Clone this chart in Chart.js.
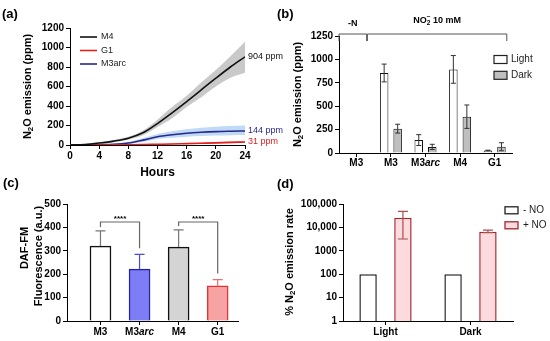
<!DOCTYPE html>
<html>
<head>
<meta charset="utf-8">
<script src="https://cdn.jsdelivr.net/npm/chart.js@4.4.1/dist/chart.umd.min.js"></script>
<style>
  body { margin: 0; background: #fff; width: 550px; height: 341px; position: relative; overflow: hidden; }
  canvas { position: absolute; }
</style>
</head>
<body>
<canvas id="chartA" style="left:0;top:0" width="290" height="180"></canvas>
<canvas id="chartB" style="left:275px;top:0" width="275" height="175"></canvas>
<canvas id="chartC" style="left:0;top:175px" width="275" height="166"></canvas>
<canvas id="chartD" style="left:275px;top:175px" width="275" height="166"></canvas>
<script>
// (a) N2O time course
const hours = [0, 2, 4, 6, 8, 10, 12, 14, 16, 18, 20, 22, 24]
const m4 = [0, 5, 20, 40, 70, 125, 220, 330, 445, 565, 685, 800, 904]
const m4Hi = [0, 8, 28, 52, 85, 150, 260, 390, 505, 640, 770, 910, 1060]
const m4Lo = [0, 2, 12, 28, 55, 100, 185, 275, 390, 490, 600, 690, 740]
const m3arc = [0, 0, 2, 6, 20, 50, 85, 105, 120, 130, 137, 141, 144]
const m3arcHi = [0, 0, 3, 10, 30, 70, 112, 142, 162, 177, 187, 195, 200]
const m3arcLo = [0, 0, 1, 3, 12, 32, 62, 75, 85, 92, 97, 100, 102]
const g1 = [0, 0, 0, 1, 2, 4, 7, 10, 14, 18, 22, 27, 31]
const g1Hi = [0, 0, 1, 2, 4, 7, 11, 15, 20, 25, 30, 36, 42]
const g1Lo = [0, 0, 0, 0, 1, 2, 4, 6, 9, 12, 15, 19, 22]

// (b) N2O emission, light vs dark
const strainsB = ["M3", "M3", "M3arc", "M4", "G1"]
const lightB = [null, 855, 138, 893, 26]
const lightErrB = [null, 95, 58, 148, 4]
const darkB = [null, 260, 65, 388, 67]
const darkErrB = [null, 47, 28, 125, 43]

// (c) DAF-FM fluorescence
const strainsC = ["M3", "M3arc", "M4", "G1"]
const dafC = [320, 222, 316, 150]
const dafErrC = [65, 63, 73, 27]

// (d) % N2O emission rate
const condsD = ["Light", "Dark"]
const minusNO = [100, 100]
const plusNO = [26000, 6500]
const plusNOLo = [3200, 6000]
const plusNOHi = [48000, 7600]
const logTicks = [1, 10, 100, 1000, 10000, 100000]
const logTickLabels = ["1", "10", "100", "1000", "10,000", "100,000"]

const FONT = '"Liberation Sans", Arial, Helvetica, sans-serif'
Chart.defaults.font.family = FONT
Chart.defaults.color = "#000"
Chart.defaults.animation = false
Chart.defaults.responsive = false
Chart.defaults.devicePixelRatio = 1
Chart.defaults.plugins.legend.display = false
Chart.defaults.plugins.tooltip.enabled = false

// draws text made of parts (sub/superscripts, italics), optionally rotated
function drawRich(ctx, parts, x, y, size, opt = {}) {
    const bold = opt.bold !== false
    ctx.save()
    ctx.translate(x, y)
    if (opt.rot) ctx.rotate(opt.rot)
    ctx.fillStyle = opt.color || "#000"
    ctx.textBaseline = "middle"
    ctx.textAlign = "left"
    const items = parts.map(p => typeof p === "string" ? { t: p } : Object.assign({}, p))
    let w = 0, prevX = 0
    items.forEach(p => {
        p.size = (p.sub || p.sup) ? size * 0.72 : size
        p.font = (p.italic ? "italic " : "") + (bold ? "bold " : "") + p.size + "px " + FONT
        ctx.font = p.font
        p.w = ctx.measureText(p.t).width
        if (p.over) {
            p.x = prevX
            w = Math.max(w, prevX + p.w)
        } else {
            p.x = w
            prevX = w
            w += p.w
        }
    })
    const start = opt.align === "left" ? 0 : opt.align === "right" ? -w : -w / 2
    items.forEach(p => {
        ctx.font = p.font
        const dy = p.sub ? size * 0.3 : p.sup ? -size * 0.4 : 0
        ctx.fillText(p.t, start + p.x, dy)
    })
    ctx.restore()
}

function strainParts(name) {
    return name.endsWith("arc") ? [name.slice(0, -3), { t: "arc", italic: true }] : [name]
}

function yAxis(min, max, step, width) {
    return {
        min: min, max: max,
        ticks: { stepSize: step, font: { size: 10, weight: "bold" }, color: "#000", padding: 2, callback: v => String(v) },
        grid: { drawOnChartArea: false, tickLength: 4, color: "#000" },
        border: { color: "#000", width: 1 },
        afterFit: s => { s.width = width }
    }
}

const errorBars = {
    id: "errorBars",
    afterDatasetsDraw(chart, args, opts) {
        const { ctx } = chart
        const y = chart.scales.y
        chart.data.datasets.forEach((ds, i) => {
            if (!ds.errHi) return
            const meta = chart.getDatasetMeta(i)
            meta.data.forEach((bar, j) => {
                const v = ds.data[j]
                if (v == null || ds.errHi[j] == null) return
                const val = typeof v === "object" ? v.y : v
                const yHi = y.getPixelForValue(ds.errHi[j])
                const yLo = y.getPixelForValue(ds.errLo ? ds.errLo[j] : val)
                const c = opts.cap / 2
                ctx.save()
                ctx.strokeStyle = Array.isArray(ds.errColor) ? ds.errColor[j] : (ds.errColor || "#000")
                ctx.lineWidth = opts.width
                ctx.beginPath()
                ctx.moveTo(bar.x, yLo); ctx.lineTo(bar.x, yHi)
                ctx.moveTo(bar.x - c, yHi); ctx.lineTo(bar.x + c, yHi)
                if (ds.errLo) { ctx.moveTo(bar.x - c, yLo); ctx.lineTo(bar.x + c, yLo) }
                ctx.stroke()
                ctx.restore()
            })
        })
    }
}

// ---------- (a) ----------
const pts = arr => hours.map((h, i) => ({ x: h, y: arr[i] }))
const lineDs = (label, arr, color) => ({
    label: label, data: pts(arr), borderColor: color, borderWidth: 1.6,
    pointRadius: 0, cubicInterpolationMode: "monotone", fill: false
})
const bandDs = (arr, fillTo, color) => ({
    data: pts(arr), borderWidth: 0, pointRadius: 0, cubicInterpolationMode: "monotone",
    fill: fillTo, backgroundColor: color
})

const panelA = {
    id: "panelA",
    afterDraw(chart) {
        const { ctx, chartArea } = chart
        const y = chart.scales.y
        drawRich(ctx, ["(a)"], 2, 14, 13, { align: "left" })
        drawRich(ctx, ["N", { t: "2", sub: true }, "O emission (ppm)"], 28, (chartArea.top + chartArea.bottom) / 2, 11, { rot: -Math.PI / 2 })
        drawRich(ctx, ["Hours"], (chartArea.left + chartArea.right) / 2, 173, 12)
        chart.data.datasets.slice(0, 3).forEach((ds, i) => {
            const ly = 37 + i * 13.5
            ctx.save()
            ctx.strokeStyle = ds.borderColor
            ctx.lineWidth = 1.6
            ctx.beginPath(); ctx.moveTo(80, ly); ctx.lineTo(97, ly); ctx.stroke()
            ctx.restore()
            drawRich(ctx, [ds.label], 101, ly, 9, { align: "left", bold: false, color: "#222" })
            const last = ds.data[ds.data.length - 1].y
            drawRich(ctx, [last + " ppm"], chartArea.right + 3, y.getPixelForValue(last), 9, { align: "left", bold: false, color: ds.borderColor })
        })
    }
}

new Chart(document.getElementById("chartA"), {
    type: "line",
    data: {
        datasets: [
            lineDs("M4", m4, "#111111"),
            lineDs("G1", g1, "#e32020"),
            lineDs("M3arc", m3arc, "#28288a"),
            bandDs(m4Lo, false, "transparent"),
            bandDs(m4Hi, 3, "rgba(165,165,165,0.6)"),
            bandDs(m3arcLo, false, "transparent"),
            bandDs(m3arcHi, 5, "rgba(130,180,240,0.5)"),
            bandDs(g1Lo, false, "transparent"),
            bandDs(g1Hi, 7, "rgba(240,110,110,0.45)")
        ]
    },
    options: {
        layout: { padding: { left: 0, top: 28, right: 45, bottom: 15 } },
        scales: {
            x: {
                type: "linear", min: 0, max: 24,
                ticks: { stepSize: 4, font: { size: 10, weight: "bold" }, color: "#000", padding: 1 },
                grid: { drawOnChartArea: false, tickLength: 4, color: "#000" },
                border: { color: "#000", width: 1 },
                afterFit: s => { s.height = 20 }
            },
            y: yAxis(0, 1200, 200, 70)
        }
    },
    plugins: [panelA]
})

// ---------- (b) ----------
const panelB = {
    id: "panelB",
    afterDraw(chart) {
        const { ctx, chartArea } = chart
        const x = chart.scales.x
        drawRich(ctx, ["(b)"], 2, 14, 13, { align: "left" })
        drawRich(ctx, ["N", { t: "2", sub: true }, "O emission (ppm)"], 23, (chartArea.top + chartArea.bottom) / 2, 11, { rot: -Math.PI / 2 })
        strainsB.forEach((s, i) => drawRich(ctx, strainParts(s), x.getPixelForValue(i), 163, 10))
        // treatment brackets
        const brackets = [
            [-0.5, 0.3, ["-N"], 28],
            [0.32, 4.35, ["NO", { t: "2", sub: true }, { t: "\u2212", sup: true, over: true }, " 10 mM"], 25]
        ]
        brackets.forEach(([a, b, txt, ty]) => {
            const xa = x.getPixelForValue(a), xb = x.getPixelForValue(b)
            ctx.save()
            ctx.strokeStyle = "#555"
            ctx.lineWidth = 1
            ctx.beginPath()
            ctx.moveTo(xa, 41); ctx.lineTo(xa, 34); ctx.lineTo(xb, 34); ctx.lineTo(xb, 41)
            ctx.stroke()
            ctx.restore()
            drawRich(ctx, txt, (xa + xb) / 2, ty - 4, 9)
        })
        chart.data.datasets.forEach((ds, i) => {
            const ly = 59.5 + i * 15.8
            ctx.save()
            ctx.fillStyle = ds.backgroundColor
            ctx.strokeStyle = "#222"
            ctx.lineWidth = 1.2
            ctx.fillRect(219, ly - 4, 13, 8)
            ctx.strokeRect(219, ly - 4, 13, 8)
            ctx.restore()
            drawRich(ctx, [ds.label], 236, ly, 10, { align: "left", bold: false, color: "#222" })
        })
    }
}

new Chart(document.getElementById("chartB"), {
    type: "bar",
    data: {
        labels: strainsB,
        datasets: [
            {
                label: "Light", data: lightB, backgroundColor: "#ffffff", borderColor: "#111", borderWidth: 1,
                errHi: lightB.map((v, i) => v == null ? null : v + lightErrB[i]),
                errLo: lightB.map((v, i) => v == null ? null : v - lightErrB[i]),
                errColor: "#333"
            },
            {
                label: "Dark", data: darkB, backgroundColor: "#bfbfbf", borderColor: "#111", borderWidth: 1,
                errHi: darkB.map((v, i) => v == null ? null : v + darkErrB[i]),
                errLo: darkB.map((v, i) => v == null ? null : v - darkErrB[i]),
                errColor: "#333"
            }
        ]
    },
    options: {
        categoryPercentage: 0.78,
        barPercentage: 0.63,
        layout: { padding: { left: 0, top: 36, right: 38, bottom: 2 } },
        scales: {
            x: {
                ticks: { color: "rgba(0,0,0,0)", font: { size: 10, weight: "bold" } },
                grid: { drawOnChartArea: false, tickLength: 4, color: "#000", offset: false },
                border: { color: "#000", width: 1 },
                afterFit: s => { s.height = 20 }
            },
            y: yAxis(0, 1250, 250, 64)
        },
        plugins: { errorBars: { cap: 5, width: 1 } }
    },
    plugins: [errorBars, panelB]
})

// ---------- (c) ----------
const sigPairs = [[0, 1], [2, 3]]
const panelC = {
    id: "panelC",
    afterDraw(chart) {
        const { ctx } = chart
        const x = chart.scales.x, y = chart.scales.y
        drawRich(ctx, ["(c)"], 3, 8, 13, { align: "left" })
        drawRich(ctx, ["DAF-FM"], 25, 73, 11, { rot: -Math.PI / 2 })
        drawRich(ctx, ["Fluorescence (a.u.)"], 39, 81, 11, { rot: -Math.PI / 2 })
        strainsC.forEach((s, i) => drawRich(ctx, strainParts(s), x.getPixelForValue(i), 157, 10))
        const ds = chart.data.datasets[0]
        const ly = y.getPixelForValue(423)
        sigPairs.forEach(([a, b]) => {
            const xa = x.getPixelForValue(a), xb = x.getPixelForValue(b)
            ctx.save()
            ctx.strokeStyle = "#666"
            ctx.lineWidth = 1.2
            ctx.beginPath()
            ctx.moveTo(xa, y.getPixelForValue(ds.errHi[a]) - 4)
            ctx.lineTo(xa, ly); ctx.lineTo(xb, ly)
            ctx.lineTo(xb, y.getPixelForValue(ds.errHi[b]) - 6)
            ctx.stroke()
            ctx.restore()
            drawRich(ctx, ["****"], (xa + xb) / 2, ly - 3, 8)
        })
    }
}

new Chart(document.getElementById("chartC"), {
    type: "bar",
    data: {
        datasets: [{
            data: dafC.map((v, i) => ({ x: i, y: v })),
            backgroundColor: ["#ffffff", "#7d7df5", "#d4d4d4", "#f7a3a3"],
            borderColor: ["#111111", "#2323a8", "#111111", "#e03535"],
            borderWidth: 1.5,
            barThickness: 21,
            errHi: dafC.map((v, i) => v + dafErrC[i]),
            errColor: ["#777", "#4a4ad6", "#777", "#e07272"]
        }]
    },
    options: {
        layout: { padding: { left: 0, top: 29, right: 37, bottom: 0 } },
        scales: {
            x: {
                type: "linear", min: -0.857, max: 3.52, offset: false,
                afterBuildTicks: axis => { axis.ticks = strainsC.map((s, i) => ({ value: i })) },
                ticks: { color: "rgba(0,0,0,0)", font: { size: 10, weight: "bold" } },
                grid: { drawOnChartArea: false, tickLength: 4, color: "#000", offset: false },
                border: { color: "#000", width: 1 },
                afterFit: s => { s.height = 20 }
            },
            y: yAxis(0, 500, 100, 67)
        },
        plugins: { errorBars: { cap: 10, width: 1.2 } }
    },
    plugins: [errorBars, panelC]
})

// ---------- (d) ----------
const panelD = {
    id: "panelD",
    afterDraw(chart) {
        const { ctx } = chart
        const x = chart.scales.x
        drawRich(ctx, ["(d)"], 2, 9, 13, { align: "left" })
        drawRich(ctx, ["% N", { t: "2", sub: true }, "O emission rate"], 15, 87, 11, { rot: -Math.PI / 2 })
        condsD.forEach((s, i) => drawRich(ctx, [s], x.getPixelForValue(i), 157, 10))
        chart.data.datasets.forEach((ds, i) => {
            const ly = 35.3 + i * 15
            ctx.save()
            ctx.fillStyle = ds.backgroundColor
            ctx.strokeStyle = ds.borderColor
            ctx.lineWidth = 1.3
            ctx.fillRect(230, ly - 3.5, 13, 7)
            ctx.strokeRect(230, ly - 3.5, 13, 7)
            ctx.restore()
            drawRich(ctx, [ds.label], 248, ly, 10, { align: "left", bold: false, color: "#222" })
        })
    }
}

new Chart(document.getElementById("chartD"), {
    type: "bar",
    data: {
        labels: condsD,
        datasets: [
            { label: "- NO", data: minusNO, backgroundColor: "#ffffff", borderColor: "#222", borderWidth: 1.5 },
            {
                label: "+ NO", data: plusNO, backgroundColor: "#fcdadd", borderColor: "#a3282e", borderWidth: 1.5,
                errHi: plusNOHi, errLo: plusNOLo, errColor: "#a85050"
            }
        ]
    },
    options: {
        categoryPercentage: 0.82,
        barPercentage: 0.5,
        layout: { padding: { left: 0, top: 29, right: 37, bottom: 0 } },
        scales: {
            x: {
                ticks: { color: "rgba(0,0,0,0)", font: { size: 10, weight: "bold" } },
                grid: { drawOnChartArea: false, tickLength: 4, color: "#000", offset: false },
                border: { color: "#000", width: 1 },
                afterFit: s => { s.height = 20 }
            },
            y: {
                type: "logarithmic", min: 1, max: 100000,
                afterBuildTicks: axis => { axis.ticks = logTicks.map(v => ({ value: v })) },
                ticks: {
                    font: { size: 10, weight: "bold" }, color: "#000", padding: 2,
                    callback: v => logTickLabels[logTicks.indexOf(v)]
                },
                grid: { drawOnChartArea: false, tickLength: 4, color: "#000" },
                border: { color: "#000", width: 1 },
                afterFit: s => { s.width = 68 }
            }
        },
        plugins: { errorBars: { cap: 10, width: 1.2 } }
    },
    plugins: [errorBars, panelD]
})
</script>
</body>
</html>
